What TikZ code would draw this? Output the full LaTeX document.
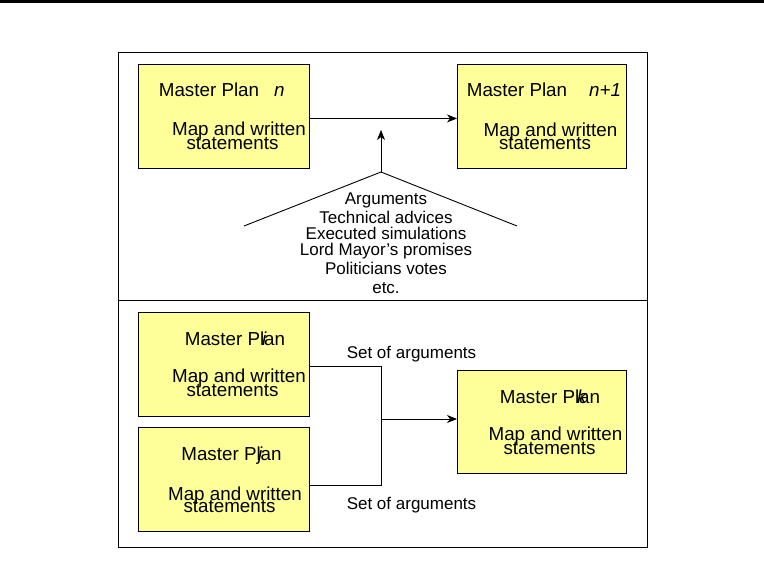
\documentclass[tikz,border=0pt]{standalone}
\usepackage{fontspec}
\setmainfont{Liberation Sans}
\usetikzlibrary{arrows.meta}
\definecolor{planfill}{HTML}{FFFF99}
\begin{document}
\begin{tikzpicture}[x=1pt,y=-1pt,
  planbox/.style={draw=black, fill=planfill, line width=0.9pt, minimum height=104pt,
                  anchor=north west, inner sep=0pt},
  boxtext/.style={anchor=base, inner sep=0pt, font=\fontsize{18.8}{18.8}\selectfont},
  idxtext/.style={anchor=base west, inner sep=0pt, font=\fontsize{18.8}{18.8}\selectfont\itshape},
  listtext/.style={anchor=base, inner sep=0pt, font=\fontsize{17}{17}\selectfont},
  link/.style={line width=0.9pt},
  arrowlink/.style={link, -{Stealth[length=10pt,width=8pt,inset=3pt]}}
]
\useasboundingbox (0,0) rectangle (764,572);

% rule across the top of the page
\draw[line width=3pt] (0,1.5) -- (764,1.5);

% outer frame and the divider between the two panels
\draw[line width=0.9pt] (118,52) rectangle (647,547);
\draw[line width=0.9pt] (118,300) -- (647,300);

% ---------- upper panel: plan n evolves into plan n+1 ----------
\node[planbox, minimum width=171pt] (pA) at (138,64) {};
\node[planbox, minimum width=169pt] (pB) at (457,64) {};

\node[boxtext] (pAt)  at (209,97)    {Master Plan};
\node[idxtext] (pAi)  at (274,97)    {n};
\node[boxtext] (pAm)  at (239,136)   {Map and written};
\node[boxtext] (pAs)  at (232.5,150) {statements};

\node[boxtext] (pBt)  at (517,97)    {Master Plan};
\node[idxtext] (pBi)  at (589,97)    {n+1};
\node[boxtext] (pBm)  at (550.5,136.5) {Map and written};
\node[boxtext] (pBs)  at (545,150)   {statements};

\draw[arrowlink] ([yshift=-2pt]pA.east) -- ([yshift=-2pt]pB.west);

% roof of arguments pushing on the transition
\coordinate (roofL) at (244,226);
\coordinate (apex)  at (381,172);
\coordinate (roofR) at (517,226);
\coordinate (push)  at (381,130);
\draw[link] (roofL) -- (apex) -- (roofR);
\draw[arrowlink] (apex) -- (push);

\node[listtext] (l1) at (386,204.5) {Arguments};
\node[listtext] (l2) at (386,223.5) {Technical advices};
\node[listtext] (l3) at (386,239.5) {Executed simulations};
\node[listtext] (l4) at (386,255.5) {Lord Mayor's promises};
\node[listtext] (l5) at (386,274.5) {Politicians votes};
\node[listtext] (l6) at (386,293.5) {etc.};

% ---------- lower panel: plans i and j merge into plan k ----------
\node[planbox, minimum width=171pt] (pC) at (138,312) {};
\node[planbox, minimum width=171pt] (pD) at (138,427) {};
\node[planbox, minimum width=169pt, minimum height=103pt] (pE) at (457,370) {};

\node[boxtext] (pCt) at (235,345.5) {Master Plan};
\node[idxtext] (pCi) at (262,345.5) {i};
\node[boxtext] (pCm) at (239,383)   {Map and written};
\node[boxtext] (pCs) at (232.5,396.5) {statements};

\node[boxtext] (pDt) at (231.5,460.5) {Master Plan};
\node[idxtext] (pDi) at (258,460.5) {j};
\node[boxtext] (pDm) at (235,500)   {Map and written};
\node[boxtext] (pDs) at (229.5,512.5) {statements};

\node[boxtext] (pEt) at (550,403.5) {Master Plan};
\node[idxtext] (pEi) at (577,403.5) {k};
\node[boxtext] (pEm) at (555.5,440) {Map and written};
\node[boxtext] (pEs) at (549.5,454) {statements};

\coordinate (junc) at (381,419);
\draw[link] ([yshift=-2pt]pC.east) -| (junc);
\draw[link] ([yshift=-6pt]pD.east) -| (junc);
\draw[arrowlink] (junc) -- (junc -| pE.west);

\node[listtext] (argsC) at (411.5,358.5) {Set of arguments};
\node[listtext] (argsD) at (411.5,509.5) {Set of arguments};
\end{tikzpicture}
\end{document}
